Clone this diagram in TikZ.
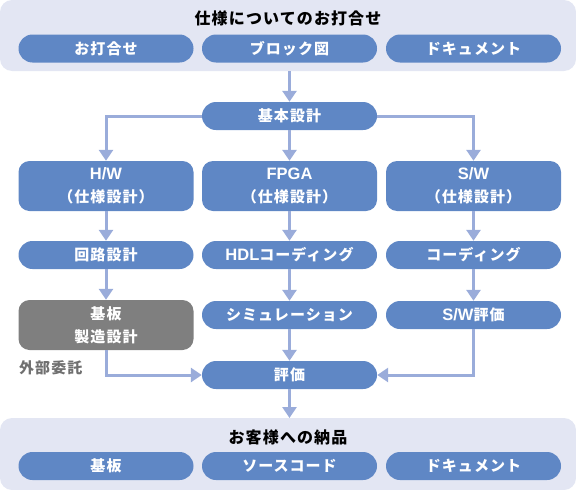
\documentclass[tikz,border=0pt]{standalone}
\usepackage{fontspec}
\setmainfont{Noto Sans CJK JP}[LetterSpace=7]
\newfontfamily\latf{Liberation Sans}
\newcommand{\lat}[1]{{\latf\fontsize{16.5pt}{17pt}\selectfont #1}}
\usetikzlibrary{arrows.meta,positioning}
\definecolor{panel}{HTML}{E3E6F3}
\definecolor{pillblue}{HTML}{5F87C5}
\definecolor{boxgray}{HTML}{7F7F7F}
\definecolor{arrowc}{HTML}{9AACDA}
\definecolor{labelgray}{HTML}{707070}
\tikzset{
  pill/.style={fill=pillblue, text=white, rounded corners=14pt, minimum width=175pt, minimum height=28pt, inner sep=0pt, font=\fontsize{15pt}{17pt}\selectfont\bfseries},
  tallbox/.style={fill=pillblue, text=white, rounded corners=11pt, minimum width=175pt, minimum height=50pt, inner sep=0pt, align=center, font=\fontsize{15pt}{23pt}\selectfont\bfseries},
  graybox/.style={tallbox, fill=boxgray},
  paneltitle/.style={font=\fontsize{16pt}{18pt}\selectfont\bfseries, text=black, inner sep=0pt},
  flow/.style={draw=arrowc, line width=3pt, -{Triangle[width=14pt,length=11pt]}}
}
\begin{document}
\begin{tikzpicture}[x=1pt,y=-1pt]
\useasboundingbox (0,0) rectangle (576,490);
% top panel
\fill[panel, rounded corners=12pt] (0,0) rectangle (576,71);
\node[paneltitle] (toptitle) at (288,18) {仕様についてのお打合せ};
\node[pill] (t1) at (106,48.5) {お打合せ};
\node[pill] (t2) at (289.5,48.5) {ブロック図};
\node[pill] (t3) at (473.5,48.5) {ドキュメント};
\coordinate (topbot) at (289.5,71);
% bottom panel
\fill[panel, rounded corners=12pt] (0,418) rectangle (576,490);
\node[paneltitle] (bottitle) at (288,437) {お客様への納品};
\node[pill] (b1) at (106,466) {基板};
\node[pill] (b2) at (289.5,466) {ソースコード};
\node[pill] (b3) at (473.5,466) {ドキュメント};
\coordinate (bottop) at (289.5,418);
% main flow
\node[pill] (kihon) at (289.5,116) {基本設計};
\node[tallbox] (hw) at (106,186) {\lat{H/W}\\（仕様設計）};
\node[tallbox] (fpga) at (289.5,186) {\lat{FPGA}\\（仕様設計）};
\node[tallbox] (sw) at (473.5,186) {\lat{S/W}\\（仕様設計）};
\node[pill] (kairo) at (106,255) {回路設計};
\node[pill] (hdl) at (289.5,255) {\lat{HDL}コーディング};
\node[pill] (coding) at (473.5,255) {コーディング};
\node[graybox] (kiban) at (106,325) {基板\\製造設計};
\node[pill] (sim) at (289.5,315) {シミュレーション};
\node[pill] (sweval) at (473.5,315) {\lat{S/W}評価};
\node[pill] (hyoka) at (289.5,375) {評価};
\node[font=\fontsize{15pt}{17pt}\selectfont\bfseries, text=labelgray, anchor=west, inner sep=0pt] (gaibu) at (19,368) {外部委託};
% arrows
\draw[flow] (topbot) -- (kihon.north);
\draw[flow] (kihon.west) -| (hw.north);
\draw[flow] (kihon.south) -- (fpga.north);
\draw[flow] (kihon.east) -| (sw.north);
\draw[flow] (hw.south) -- (kairo.north);
\draw[flow] (fpga.south) -- (hdl.north);
\draw[flow] (sw.south) -- (coding.north);
\draw[flow] (kairo.south) -- (kiban.north);
\draw[flow] (hdl.south) -- (sim.north);
\draw[flow] (coding.south) -- (sweval.north);
\draw[flow] (kiban.south) |- (hyoka.west);
\draw[flow] (sim.south) -- (hyoka.north);
\draw[flow] (sweval.south) |- (hyoka.east);
\draw[flow] (hyoka.south) -- (bottop);
\end{tikzpicture}
\end{document}
